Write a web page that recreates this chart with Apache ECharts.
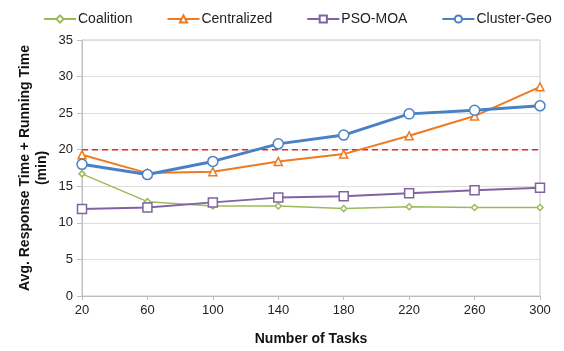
<!DOCTYPE html>
<html>
<head>
<meta charset="utf-8">
<script src="https://cdn.jsdelivr.net/npm/echarts@6/dist/echarts.min.js"></script>
<style>
  html, body { margin: 0; padding: 0; background: #fff; }
  #chart { width: 564px; height: 351px; }
</style>
</head>
<body>
<div id="chart"></div>
<script>
// Number of tasks on the x axis
const tasks = ['20', '60', '100', '140', '180', '220', '260', '300'];

// Avg. response time + running time (min) per approach
const coalition   = [16.7, 12.9, 12.3, 12.3, 11.95, 12.2, 12.1, 12.1];
const centralized = [19.3, 16.8, 17.0, 18.4, 19.4, 21.9, 24.6, 28.6];
const psoMoa      = [11.9, 12.1, 12.8, 13.45, 13.65, 14.05, 14.45, 14.8];
const clusterGeo  = [18.0, 16.6, 18.4, 20.8, 22.0, 24.9, 25.4, 26.0];

// Reference threshold drawn as a dashed line
const threshold = 20;

const font = 'Liberation Sans, Arial, sans-serif';

function lineSeries(name, data, color, symbol, size, width) {
  return {
    name: name,
    type: 'line',
    data: data,
    symbol: symbol,
    symbolSize: size,
    showAllSymbol: true,
    itemStyle: { color: '#fff', borderColor: color, borderWidth: 1.5 },
    lineStyle: { color: color, width: width },
    emphasis: { disabled: true },
    z: 3
  };
}

const chart = echarts.init(document.getElementById('chart'));
chart.setOption({
  animation: false,
  textStyle: { fontFamily: font },
  legend: {
    top: 7,
    left: 38,
    itemGap: 34,
    itemWidth: 32,
    itemHeight: 9,
    textStyle: { fontSize: 14, color: '#222', fontFamily: font, padding: [0, 0, 0, -3] },
    data: ['Coalition', 'Centralized', 'PSO-MOA', 'Cluster-Geo']
  },
  grid: { left: 82, right: 24, top: 40, bottom: 55, show: true, borderColor: '#c8c8c8', borderWidth: 1 },
  xAxis: {
    type: 'category',
    data: tasks,
    boundaryGap: false,
    name: 'Number of Tasks',
    nameLocation: 'middle',
    nameGap: 36,
    nameMoveOverlap: false,
    nameTextStyle: { fontSize: 14, fontWeight: 'bold', color: '#111', fontFamily: font },
    axisLine: { lineStyle: { color: '#bfbfbf' } },
    axisTick: { show: true, alignWithLabel: true, length: 4, lineStyle: { color: '#bfbfbf' } },
    axisLabel: { fontSize: 13, color: '#222', margin: 8, fontFamily: font },
    splitLine: { show: false }
  },
  yAxis: {
    type: 'value',
    min: 0,
    max: 35,
    interval: 5,
    name: 'Avg. Response Time + Running Time\n(min)',
    nameLocation: 'middle',
    nameGap: 31,
    nameMoveOverlap: false,
    nameTextStyle: { fontSize: 14, fontWeight: 'bold', color: '#111', lineHeight: 17, fontFamily: font },
    axisLine: { show: true, lineStyle: { color: '#bfbfbf' } },
    axisTick: { show: true, length: 5, lineStyle: { color: '#bfbfbf' } },
    axisLabel: { fontSize: 13, color: '#222', margin: 9, fontFamily: font },
    splitLine: { show: true, lineStyle: { color: '#dedede', width: 1 } }
  },
  series: [
    lineSeries('Coalition', coalition, '#9bbb59', 'diamond', 6, 1.5),
    lineSeries('Centralized', centralized, '#ee7a22', 'triangle', 8, 2),
    lineSeries('PSO-MOA', psoMoa, '#8064a2', 'rect', 9, 2),
    lineSeries('Cluster-Geo', clusterGeo, '#4a80c4', 'circle', 10, 3),
    {
      name: 'threshold',
      type: 'line',
      data: tasks.map(() => threshold),
      symbol: 'none',
      lineStyle: { color: '#e8262a', width: 1.5, type: [6, 4] },
      emphasis: { disabled: true },
      z: 2
    }
  ]
});
</script>
</body>
</html>
